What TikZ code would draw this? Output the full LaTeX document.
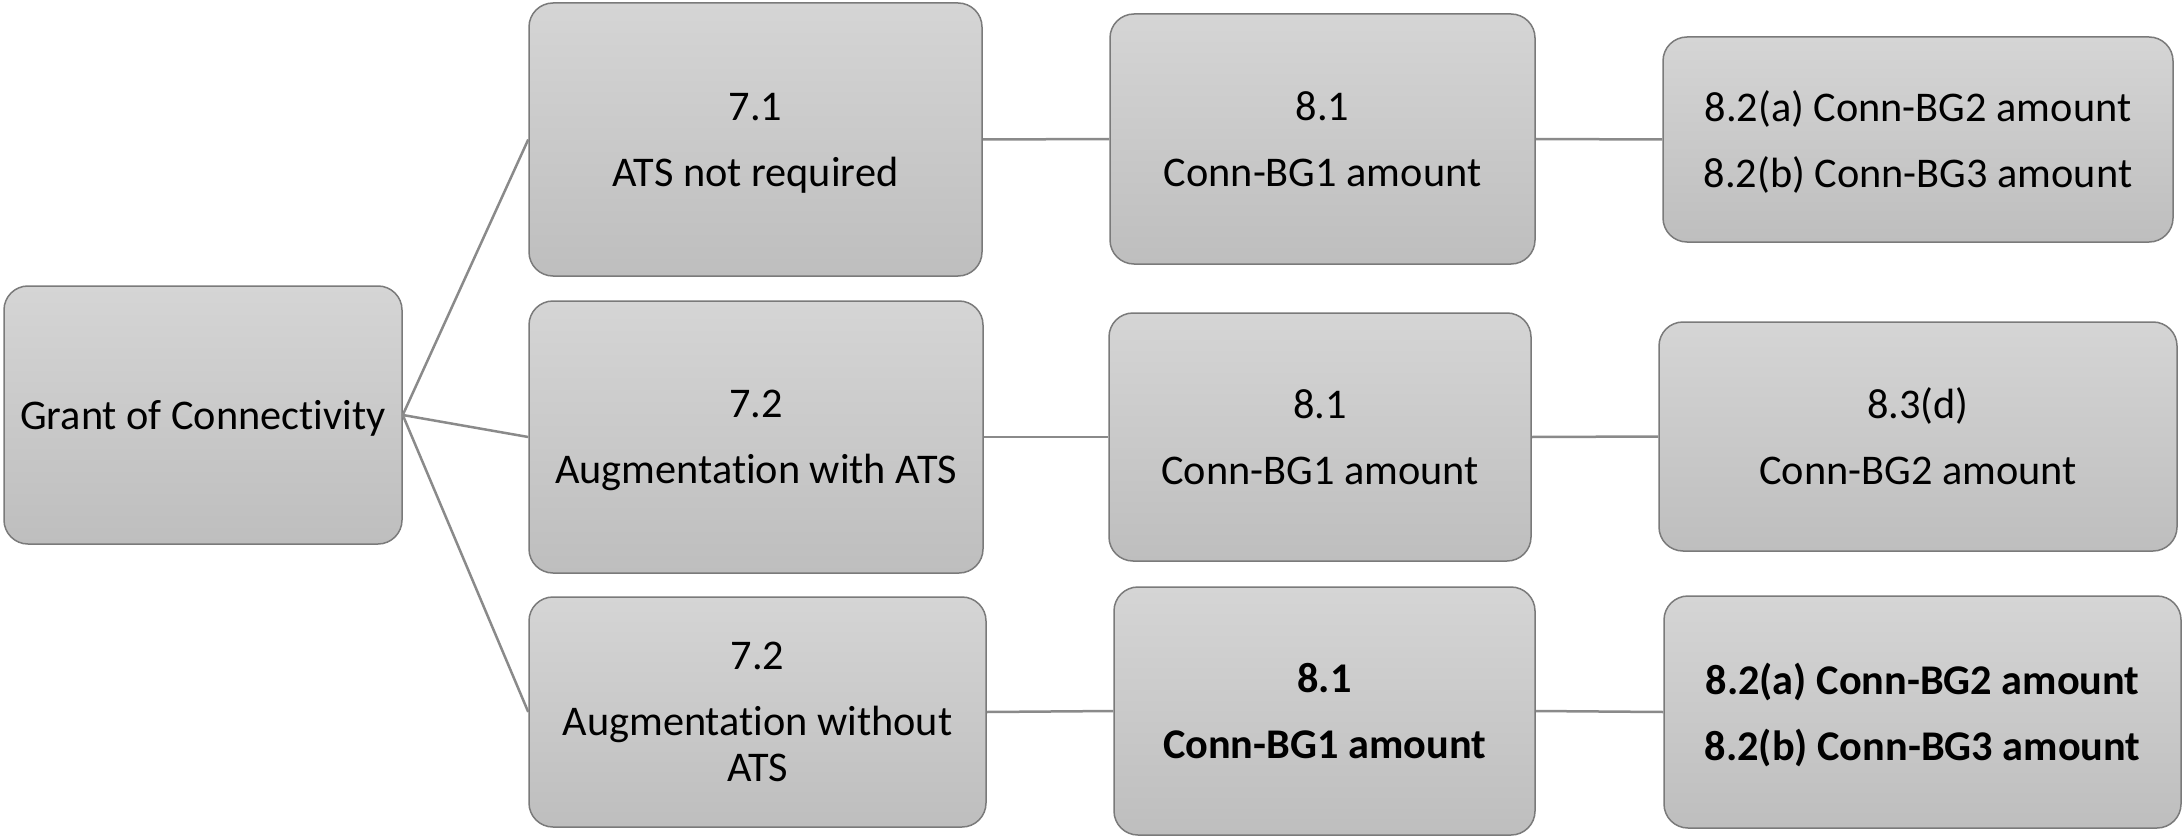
\documentclass[tikz,border=0pt]{standalone}
\usepackage{fontspec}
\setmainfont{Carlito}[Ligatures={CommonOff,ContextualOff}]
\definecolor{boxtop}{RGB}{213,213,213}
\definecolor{boxbot}{RGB}{190,190,190}
\definecolor{boxline}{RGB}{122,122,122}
\definecolor{linkline}{RGB}{138,138,138}
\tikzset{
  card/.style={rectangle, rounded corners=24pt, draw=boxline, line width=1.5pt,
    top color=boxtop, bottom color=boxbot, inner sep=0pt, align=center,
    text depth=0pt, font=\fontsize{42.3}{46}\selectfont, text=black},
  link/.style={draw=linkline, line width=2.5pt}
}
\begin{document}
\begin{tikzpicture}[x=1pt,y=-1pt]
\useasboundingbox (0,0) rectangle (2183,837);

% root
\node[card, minimum width=398pt, minimum height=258pt] (root) at (203,415) {Grant of Connectivity};

% first level
\node[card, minimum width=453pt, minimum height=273pt] (a1) at (755.5,139.5) {7.1\\[20pt]ATS not required};
\node[card, minimum width=454pt, minimum height=272pt] (a2) at (756,437) {7.2\\[20pt]Augmentation with ATS};
\node[card, minimum width=457pt, minimum height=230pt] (a3) at (757.5,712) {7.2\\[20pt]Augmentation without\\ATS};

% second level
\node[card, minimum width=425pt, minimum height=250pt] (b1) at (1322.5,139) {8.1\\[20pt]Conn-BG1 amount};
\node[card, minimum width=422pt, minimum height=248pt] (b2) at (1320,437) {8.1\\[20pt]Conn-BG1 amount};
\node[card, minimum width=421pt, minimum height=248pt] (b3) at (1324.5,711) {\bfseries 8.1\\[20pt]\bfseries Conn-BG1 amount};

% third level
\node[card, minimum width=510pt, minimum height=205pt] (c1) at (1918,139.5) {8.2(a) Conn-BG2 amount\\[20pt]8.2(b) Conn-BG3 amount};
\node[card, minimum width=518pt, minimum height=229pt] (c2) at (1918,436.5) {8.3(d)\\[20pt]Conn-BG2 amount};
\node[card, minimum width=517pt, minimum height=232pt] (c3) at (1922.5,712) {\bfseries 8.2(a) Conn-BG2 amount\\[20pt]\bfseries 8.2(b) Conn-BG3 amount};

% connectors
\draw[link] (root.east) -- (a1.west);
\draw[link] (root.east) -- (a2.west);
\draw[link] (root.east) -- (a3.west);
\draw[link] (a1.east) -- (b1.west);
\draw[link] (a2.east) -- (b2.west);
\draw[link] (a3.east) -- (b3.west);
\draw[link] (b1.east) -- (c1.west);
\draw[link] (b2.east) -- (c2.west);
\draw[link] (b3.east) -- (c3.west);
\end{tikzpicture}
\end{document}
